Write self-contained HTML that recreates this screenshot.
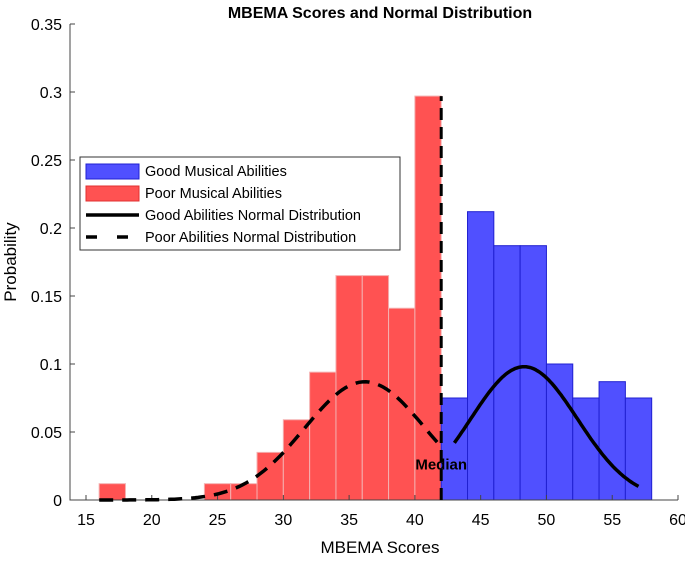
<!DOCTYPE html>
<html><head><meta charset="utf-8"><style>
body{margin:0;background:#fff;font-family:"Liberation Sans",sans-serif}
</style></head><body>
<svg id="chart" width="685" height="558" xmlns="http://www.w3.org/2000/svg" font-family="Liberation Sans, sans-serif">
<text x="380" y="18" text-anchor="middle" font-size="16" font-weight="bold">MBEMA Scores and Normal Distribution</text>
<text transform="translate(16,262) rotate(-90)" text-anchor="middle" font-size="17">Probability</text>
<text x="380" y="553" text-anchor="middle" font-size="17">MBEMA Scores</text>
<g id="plot"></g>
</svg>
<script>
const binEdgesPoor=[16,24,26,28,30,32,34,36,38,40];
const poorValues=[0.012,0.012,0.012,0.035,0.059,0.094,0.165,0.165,0.141,0.297];
const binEdgesGood=[42,44,46,48,50,52,54,56];
const goodValues=[0.075,0.212,0.187,0.187,0.1,0.075,0.087,0.075];
const binWidth=2;
const xTicks=[15,20,25,30,35,40,45,50,55,60];
const yTicks=[0,0.05,0.1,0.15,0.2,0.25,0.3,0.35];
const poorFit=[36.2,4.59,16,42];
const goodFit=[48.3,4.07,43,57];
const medianValue=42;

const NS='http://www.w3.org/2000/svg';
const X=v=>86+(v-15)*(678-86)/45;
const Y=v=>500-v*(500-24)/0.35;
const g=document.getElementById('plot');
function mk(t,a){const e=document.createElementNS(NS,t);for(const k in a)e.setAttribute(k,a[k]);g.appendChild(e);return e;}
function bars(edges,vals,fill,stroke,name){
 edges.forEach((x0,i)=>{
  const r=mk('rect',{x:X(x0),y:Y(vals[i]),width:X(x0+binWidth)-X(x0),height:Y(0)-Y(vals[i]),fill:fill,stroke:stroke,'stroke-width':1});
  
  
 });
}
bars(binEdgesPoor,poorValues,'#ff5252','#f4b0b0','bar-poor');
bars(binEdgesGood,goodValues,'#5050ff','#2020d0','bar-good');
const ax=mk('path',{d:`M70 ${Y(0.35)} V${Y(0)} H${X(60)}`,fill:'none',stroke:'#444','stroke-width':1});


xTicks.forEach(t=>{
 mk('line',{x1:X(t),x2:X(t),y1:Y(0),y2:Y(0)-5,stroke:'#444'});
 const tx=mk('text',{x:X(t),y:Y(0)+25,'text-anchor':'middle','font-size':16});
 tx.textContent=t;
 
 
});
yTicks.forEach(t=>{
 mk('line',{x1:70,x2:75,y1:Y(t),y2:Y(t),stroke:'#444'});
 const tx=mk('text',{x:62,y:Y(t)+6,'text-anchor':'end','font-size':16});
 tx.textContent=String(t);
 
 
});
function curve(p,dash,name){
 const [m,s,a,b]=p;let d='';
 for(let i=0;i<=100;i++){const x=a+(b-a)*i/100;const y=Math.exp(-(x-m)*(x-m)/(2*s*s))/(s*Math.sqrt(2*Math.PI));d+=(i?'L':'M')+X(x).toFixed(1)+' '+Y(y).toFixed(1);}
 const c=mk('path',{d:d,fill:'none',stroke:'#000','stroke-width':3.5,'stroke-dasharray':dash});
 
 
}
curve(poorFit,'14 9','poor-normal-curve');
curve(goodFit,'none','good-normal-curve');
const ml=mk('line',{x1:X(medianValue),x2:X(medianValue),y1:Y(0),y2:Y(0.297),stroke:'#000','stroke-width':3,'stroke-dasharray':'12 7'});


const mt=mk('text',{x:X(medianValue),y:Y(0.026)+5,'text-anchor':'middle','font-size':15,'font-weight':'bold'});
mt.textContent='Median';


const lg=mk('rect',{x:80,y:157,width:320,height:93,fill:'#fff',stroke:'#333','stroke-width':1});


const items=[['Good Musical Abilities','good'],['Poor Musical Abilities','poor'],['Good Abilities Normal Distribution','solid'],['Poor Abilities Normal Distribution','dash']];
items.forEach((it,i)=>{
 const cy=171+i*22;
 if(it[1]=='good'){mk('rect',{x:86,y:cy-7,width:53,height:15,fill:'#5050ff',stroke:'#2020d0'});}
 else if(it[1]=='poor'){mk('rect',{x:86,y:cy-7,width:53,height:15,fill:'#ff5252',stroke:'#e03030'});}
 else mk('line',{x1:86,x2:139,y1:cy,y2:cy,stroke:'#000','stroke-width':3.5,'stroke-dasharray':it[1]=='dash'?'11 20':'none'});
 const t=mk('text',{x:145,y:cy+5,'font-size':14.5});
 t.textContent=it[0];
 
 
});
</script>
</body></html>
